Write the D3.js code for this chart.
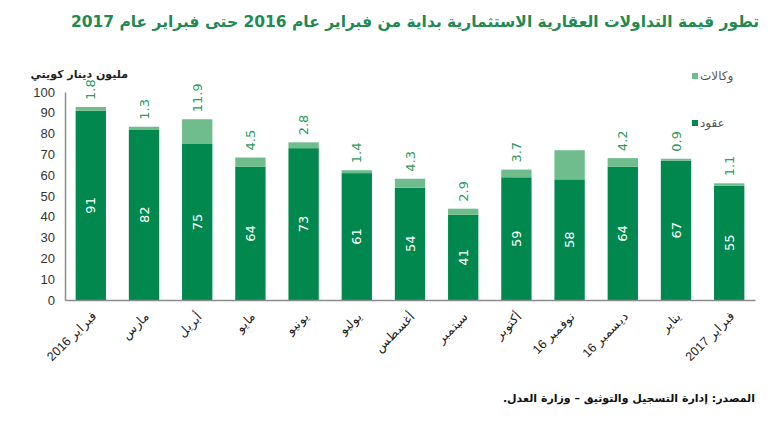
<!DOCTYPE html>
<html>
<head>
<meta charset="utf-8">
<script src="https://cdn.jsdelivr.net/npm/d3@7"></script>
<style>
  body { margin: 0; background: #fff; }
  svg { font-family: "DejaVu Sans", "Noto Sans", sans-serif; }
</style>
</head>
<body>
<svg id="chart" width="770" height="423"></svg>
<script>
// Data
const months = ['فبراير 2016', 'مارس', 'أبريل', 'مايو', 'يونيو', 'يوليو', 'أغسطس',
  'سبتمبر', 'أكتوبر', 'نوفمبر 16', 'ديسمبر 16', 'يناير', 'فبراير 2017'];
const contracts = [91, 82, 75, 64, 73, 61, 54, 41, 59, 58, 64, 67, 55];
const agencies = [1.8, 1.3, 11.9, 4.5, 2.8, 1.4, 4.3, 2.9, 3.7, 14, 4.2, 0.9, 1.1];
const agencyLabels = ['1.8', '1.3', '11.9', '4.5', '2.8', '1.4', '4.3', '2.9', '3.7', '', '4.2', '0.9', '1.1'];
const yTicks = [0, 10, 20, 30, 40, 50, 60, 70, 80, 90, 100];

const DARK = '#00884f';
const LIGHT = '#6fbd8d';

const svg = d3.select('#chart');
const margin = { left: 65, right: 15, top: 92, bottom: 123 };
const W = 770, H = 423;

const x = d3.scaleBand()
  .domain(months)
  .range([margin.left, W - margin.right])
  .paddingInner(0.43)
  .paddingOuter(0.2);

const y = d3.scaleLinear()
  .domain([0, 100])
  .range([H - margin.bottom, margin.top]);

// Title
svg.append('text')
  .attr('x', 415).attr('y', 27)
  .attr('text-anchor', 'middle')
  .attr('direction', 'rtl')
  .attr('font-size', 15.5).attr('font-weight', 'bold')
  .attr('fill', '#1f8a52')
  .text('تطور قيمة التداولات العقارية الاستثمارية بداية من فبراير عام 2016 حتى فبراير عام 2017');

// Unit label
svg.append('text')
  .attr('x', 128).attr('y', 78)
  .attr('text-anchor', 'start')
  .attr('direction', 'rtl')
  .attr('font-size', 11).attr('font-weight', 'bold')
  .attr('fill', '#222')
  .text('مليون دينار كويتي');

// Y axis
const yAxis = svg.append('g')
  .attr('transform', `translate(${margin.left},0)`)
  .call(d3.axisLeft(y).tickValues(yTicks).tickSize(0).tickPadding(10));
yAxis.select('.domain').attr('stroke', '#8c8c8c').attr('stroke-width', 1.5);
yAxis.selectAll('text').attr('font-size', 13).attr('fill', '#333')
  .attr('font-family', '"Liberation Sans", Arial, sans-serif');

// Bars - contracts
svg.append('g').selectAll('rect')
  .data(months)
  .join('rect')
  .attr('x', d => x(d))
  .attr('width', x.bandwidth())
  .attr('y', (d, i) => y(contracts[i]))
  .attr('height', (d, i) => y(0) - y(contracts[i]))
  .attr('fill', DARK);

// Bars - agencies
svg.append('g').selectAll('rect')
  .data(months)
  .join('rect')
  .attr('x', d => x(d))
  .attr('width', x.bandwidth())
  .attr('y', (d, i) => y(contracts[i] + agencies[i]))
  .attr('height', (d, i) => y(contracts[i]) - y(contracts[i] + agencies[i]))
  .attr('fill', LIGHT);

// X axis
const xAxis = svg.append('g')
  .attr('transform', `translate(0,${y(0)})`)
  .call(d3.axisBottom(x).tickSize(0).tickPadding(0));
xAxis.select('.domain').attr('stroke', '#8c8c8c').attr('stroke-width', 1.5);
xAxis.selectAll('text')
  .attr('font-size', 12.5).attr('fill', '#222')
  .attr('direction', 'rtl')
  .attr('text-anchor', 'start')
  .attr('dy', 0)
  .attr('transform', 'translate(6,17) rotate(-45)');

// Contract value labels (inside, rotated)
svg.append('g').selectAll('text')
  .data(months)
  .join('text')
  .attr('transform', (d, i) => `translate(${x(d) + x.bandwidth() / 2},${y(contracts[i] / 2)}) rotate(-90)`)
  .attr('text-anchor', 'middle')
  .attr('dy', '0.35em')
  .attr('font-size', 13)
  .attr('fill', '#fff')
  .text((d, i) => contracts[i]);

// Agency value labels (above, rotated)
svg.append('g').selectAll('text')
  .data(months)
  .join('text')
  .attr('transform', (d, i) => `translate(${x(d) + x.bandwidth() / 2},${y(contracts[i] + agencies[i]) - 7}) rotate(-90)`)
  .attr('text-anchor', 'start')
  .attr('dy', '0.35em')
  .attr('font-size', 13)
  .attr('fill', '#2e9a60')
  .text((d, i) => agencyLabels[i]);

// Legend
const legend = [
  { name: 'وكالات', color: LIGHT, y: 76 },
  { name: 'عقود', color: DARK, y: 123 }
];
const lg = svg.append('g').selectAll('g').data(legend).join('g')
  .attr('transform', d => `translate(692,${d.y})`);
lg.append('rect').attr('x', 0).attr('y', -3).attr('width', 6).attr('height', 6).attr('fill', d => d.color);
lg.append('text').attr('x', 8).attr('y', 0).attr('dy', '0.35em')
  .attr('font-size', 12).attr('fill', '#555')
  .text(d => d.name);

// Source
svg.append('text')
  .attr('x', 755).attr('y', 402)
  .attr('text-anchor', 'start')
  .attr('direction', 'rtl')
  .attr('font-size', 11).attr('font-weight', 'bold')
  .attr('fill', '#111')
  .text('المصدر: إدارة التسجيل والتوثيق – وزارة العدل.');
</script>
</body>
</html>
